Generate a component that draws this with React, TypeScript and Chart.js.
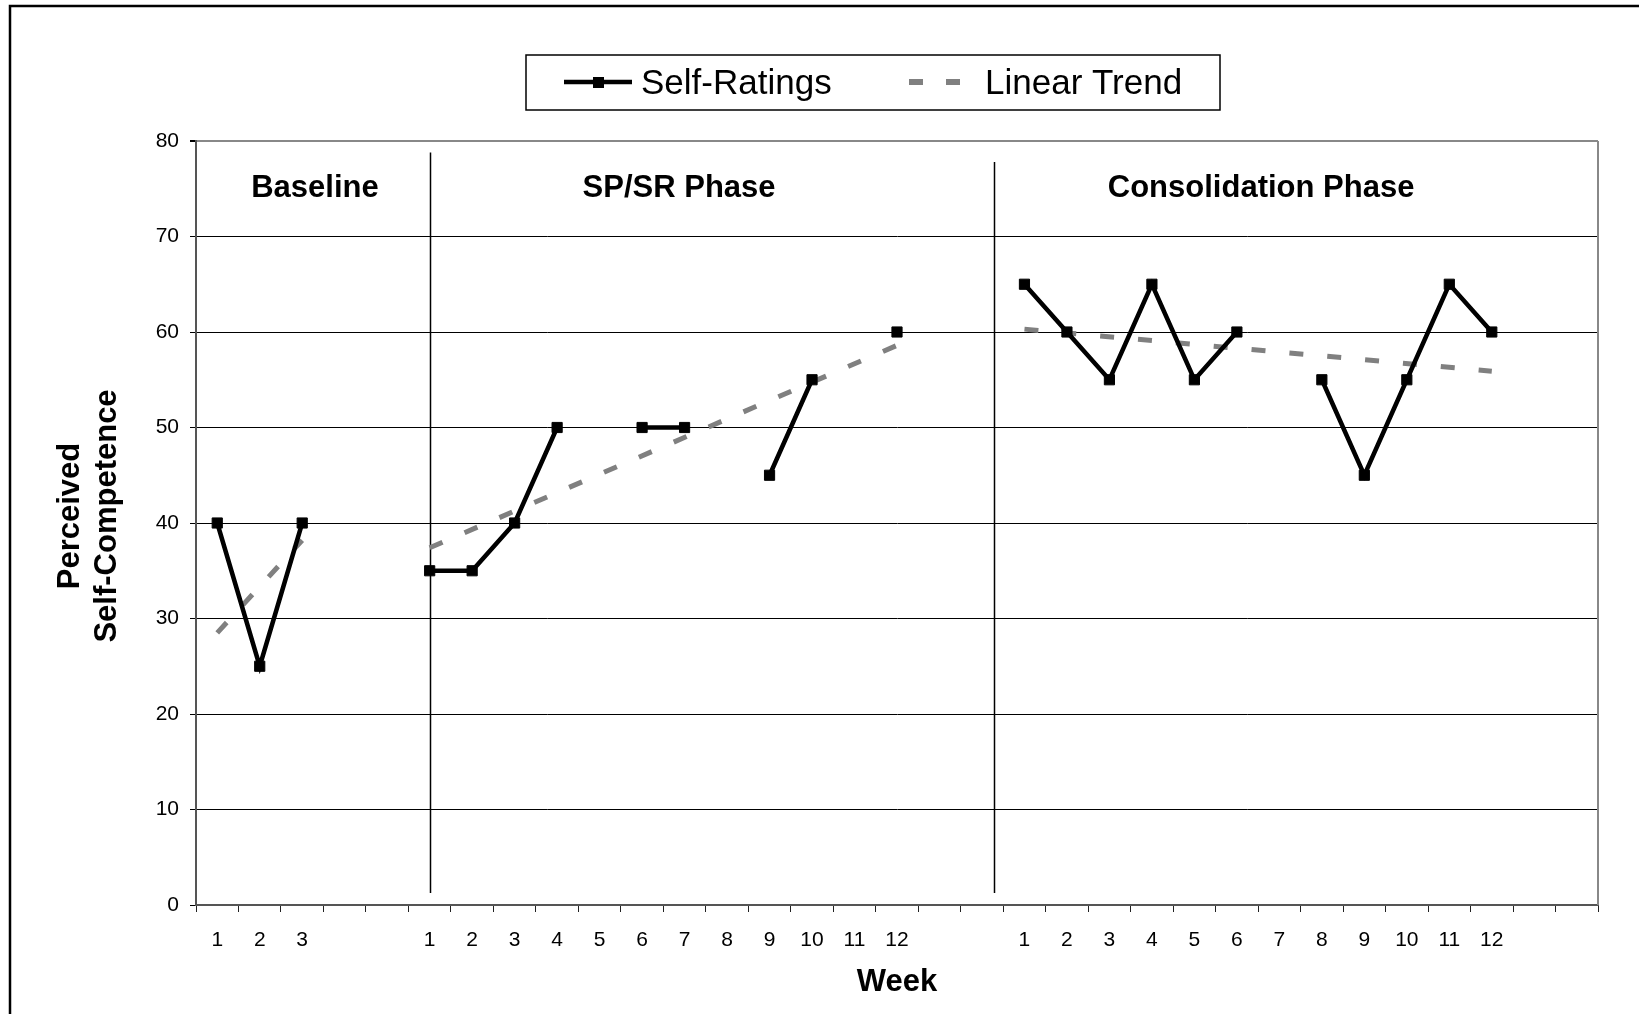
import React, { useEffect, useRef } from 'react';
import { Chart, registerables } from 'chart.js';

Chart.register(...registerables);

// ---- data ----
const weekLabels = [
  '1', '2', '3', '', '',
  '1', '2', '3', '4', '5', '6', '7', '8', '9', '10', '11', '12', '', '',
  '1', '2', '3', '4', '5', '6', '7', '8', '9', '10', '11', '12', '', '',
];

const selfRatings: (number | null)[] = [
  40, 25, 40, null, null,
  35, 35, 40, 50, null, 50, 50, null, 45, 55, null, 60, null, null,
  65, 60, 55, 65, 55, 60, null, 55, 45, 55, 65, 60, null, null,
];

// linear trend endpoints per phase: [startIndex, endIndex, startValue, endValue]
const trendBaseline = [0, 2, 28.5, 38.2];
const trendSPSR = [5, 16, 37.4, 58.6];
const trendConsolidation = [19, 30, 60.3, 55.9];

const phaseNames = ['Baseline', 'SP/SR Phase', 'Consolidation Phase'];
const yTicks = [0, 10, 20, 30, 40, 50, 60, 70, 80];

// ---- decoration geometry (not data) ----
const phaseLabelX = [2.3, 10.87, 24.57];
const dividerX = [5.0, 18.28];
const dividerTop = [78.8, 77.8];
const dividerBottom = 1.25;

const FONT = "'Liberation Sans', Arial, Helvetica, sans-serif";

function endpoints(spec: number[]): (number | null)[] {
  const arr: (number | null)[] = weekLabels.map(() => null);
  arr[spec[0]] = spec[2];
  arr[spec[1]] = spec[3];
  return arr;
}

const decorPlugin = {
  id: 'decor',
  beforeDatasetsDraw(chart: any) {
    const { ctx, chartArea: ca, scales } = chart;
    const x = scales.x, y = scales.y;
    ctx.save();
    // plot right border
    ctx.strokeStyle = '#888';
    ctx.lineWidth = 2;
    ctx.beginPath();
    ctx.moveTo(ca.right, ca.top);
    ctx.lineTo(ca.right, ca.bottom);
    ctx.stroke();
    // phase dividers
    ctx.strokeStyle = '#000';
    ctx.lineWidth = 1.5;
    dividerX.forEach((v, i) => {
      const px = Math.round(x.getPixelForValue(v)) + 0.5;
      ctx.beginPath();
      ctx.moveTo(px, y.getPixelForValue(dividerTop[i]));
      ctx.lineTo(px, y.getPixelForValue(dividerBottom));
      ctx.stroke();
    });
    // phase labels
    ctx.fillStyle = '#000';
    ctx.font = `bold 31px ${FONT}`;
    ctx.textAlign = 'center';
    ctx.textBaseline = 'middle';
    phaseNames.forEach((n, i) => {
      ctx.fillText(n, x.getPixelForValue(phaseLabelX[i]), ca.top + 47);
    });
    ctx.restore();
  },
  afterDraw(chart: any) {
    const { ctx, chartArea: ca } = chart;
    ctx.save();
    // outer border
    ctx.strokeStyle = '#000';
    ctx.lineWidth = 2.5;
    ctx.strokeRect(10, 6, 1700, 1100);

    // axis titles
    ctx.fillStyle = '#000';
    ctx.font = `bold 31px ${FONT}`;
    ctx.textAlign = 'center';
    ctx.textBaseline = 'middle';
    ctx.fillText('Week', (ca.left + ca.right) / 2, 982);
    ctx.save();
    ctx.translate(70, 516);
    ctx.rotate(-Math.PI / 2);
    ctx.fillText('Perceived', 0, 0);
    ctx.fillText('Self-Competence', 0, 37);
    ctx.restore();

    // legend
    ctx.fillStyle = '#fff';
    ctx.fillRect(526, 55, 694, 55);
    ctx.strokeStyle = '#000';
    ctx.lineWidth = 1.5;
    ctx.strokeRect(526, 55, 694, 55);
    const ly = 82;
    ctx.strokeStyle = '#000';
    ctx.lineWidth = 4.5;
    ctx.beginPath();
    ctx.moveTo(564, ly);
    ctx.lineTo(632, ly);
    ctx.stroke();
    ctx.fillStyle = '#000';
    ctx.fillRect(593, ly - 5, 11, 11);
    ctx.fillStyle = '#808080';
    ctx.fillRect(909, ly - 3, 14, 6);
    ctx.fillRect(946, ly - 3, 14, 6);
    ctx.fillStyle = '#000';
    ctx.font = `35px ${FONT}`;
    ctx.textAlign = 'left';
    ctx.textBaseline = 'middle';
    ctx.fillText('Self-Ratings', 641, ly + 2);
    ctx.fillText('Linear Trend', 985, ly + 2);
    ctx.restore();
  },
};

export default function App() {
  const ref = useRef<HTMLCanvasElement>(null);

  useEffect(() => {
    if (!ref.current) return;
    const trendStyle = {
      borderColor: '#808080',
      backgroundColor: '#808080',
      borderWidth: 5,
      borderDash: [14, 24],
      borderCapStyle: 'butt' as const,
      pointRadius: 0,
      spanGaps: true,
      tension: 0,
    };
    const chart = new Chart(ref.current, {
      type: 'line',
      data: {
        labels: weekLabels,
        datasets: [
          {
            label: 'Self-Ratings',
            data: selfRatings,
            borderColor: '#000',
            backgroundColor: '#000',
            borderWidth: 4.5,
            pointStyle: 'rect',
            pointRadius: 7.2,
            pointBorderWidth: 1,
            pointBackgroundColor: '#000',
            pointBorderColor: '#000',
            spanGaps: false,
            tension: 0,
          },
          { label: 'Linear Trend', data: endpoints(trendBaseline), ...trendStyle },
          { label: 'Linear Trend 2', data: endpoints(trendSPSR), ...trendStyle },
          { label: 'Linear Trend 3', data: endpoints(trendConsolidation), ...trendStyle },
        ],
      },
      options: {
        responsive: false,
        animation: false,
        devicePixelRatio: 1,
        layout: { padding: { top: 141, right: 41, left: 0, bottom: 0 } },
        plugins: { legend: { display: false }, tooltip: { enabled: false } },
        scales: {
          x: {
            type: 'category',
            offset: true,
            grid: {
              offset: true,
              drawOnChartArea: false,
              drawTicks: true,
              tickLength: 7,
              tickColor: '#222',
              lineWidth: 1,
            },
            border: { color: '#555', width: 2 },
            ticks: {
              autoSkip: false,
              maxRotation: 0,
              minRotation: 0,
              padding: 16,
              color: '#000',
              font: { family: FONT, size: 21 },
            },
            afterFit: (s: any) => { s.height = 109; },
          },
          y: {
            min: 0,
            max: 80,
            afterBuildTicks: (s: any) => { s.ticks = yTicks.map((v) => ({ value: v })); },
            grid: {
              color: (c: any) => (c.tick && c.tick.value === 80 ? '#888' : '#000'),
              lineWidth: (c: any) => (c.tick && c.tick.value === 80 ? 2 : 1),
              tickLength: 6,
              tickColor: '#000',
            },
            border: { color: '#555', width: 2 },
            ticks: {
              padding: 11,
              color: '#000',
              font: { family: FONT, size: 21 },
            },
            afterFit: (s: any) => { s.width = 196; },
          },
        },
      },
      plugins: [decorPlugin],
    });
    return () => chart.destroy();
  }, []);

  return (
    <div style={{ position: 'fixed', left: 0, top: 0, width: 1639, height: 1014, background: '#fff' }}>
      <canvas ref={ref} width={1639} height={1014} style={{ display: 'block' }} />
    </div>
  );
}
